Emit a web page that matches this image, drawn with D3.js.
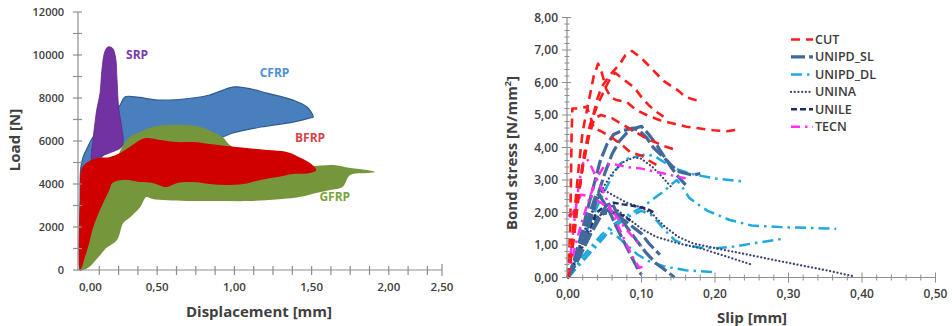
<!DOCTYPE html>
<html>
<head>
<meta charset="utf-8">
<script src="https://cdn.jsdelivr.net/npm/d3@7"></script>
<style>
  html, body { margin: 0; padding: 0; background: #fff; }
  svg { display: block; font-family: "Open Sans", "DejaVu Sans", sans-serif; }
</style>
</head>
<body>
<svg id="chart" width="952" height="326"></svg>
<script>
// ---------- Left panel: load–displacement envelopes [displacement mm, load N] ----------
const cfrpEnvelope = [
  [0,0],[0,3260],[0.005,4740],[0.02,5250],[0.05,5720],[0.08,6140],[0.13,6510],[0.19,7070],
  [0.26,7670],[0.29,8050],[0.36,8050],[0.52,7900],[0.73,8000],[0.84,8140],[0.99,8510],
  [1.08,8460],[1.21,8230],[1.38,7900],[1.47,7580],[1.51,7110],
  [1.49,7070],[1.38,6880],[1.17,6650],[0.99,6370],[0.87,6050],[0.65,5900],[0.45,5810],
  [0.29,5810],[0.19,5580],[0.10,4880],[0.03,3720],[0.005,0]
];
const srpEnvelope = [
  [0.076,5120],[0.084,6050],[0.097,6840],[0.108,7440],[0.13,8230],[0.14,9160],[0.16,10140],
  [0.18,10370],[0.21,10320],[0.23,9900],[0.24,8840],[0.25,7580],[0.27,6650],[0.28,6050],
  [0.27,5720],[0.19,5440],[0.10,5200]
];
const gfrpEnvelope = [
  [0,0],[0.03,1160],[0.08,2560],[0.14,3720],[0.22,4880],[0.28,5810],[0.32,6180],[0.39,6420],
  [0.47,6650],[0.56,6740],[0.69,6740],[0.78,6650],[0.86,6420],[0.93,6140],[0.97,5810],
  [1.17,5120],[1.42,4880],[1.51,4840],[1.64,4880],[1.75,4740],[1.86,4650],[1.91,4560],
  [1.86,4510],[1.75,4420],[1.70,3860],[1.62,3720],[1.53,3580],[1.42,3390],[1.31,3300],
  [1.10,3210],[0.89,3210],[0.69,3210],[0.47,3300],[0.43,3390],[0.39,2930],[0.32,2420],
  [0.28,2190],[0.24,1400],[0.17,1020],[0.12,600],[0.06,140],[0.02,0]
];
const bfrpEnvelope = [
  [0,0],[0,3260],[0.01,4700],[0.04,4980],[0.11,5210],[0.19,5250],[0.26,5440],[0.34,5810],
  [0.39,6050],[0.43,6140],[0.52,6050],[0.63,5950],[0.73,5950],[0.84,5860],[0.95,5770],
  [1.08,5670],[1.21,5580],[1.34,5490],[1.42,5250],[1.49,4980],[1.53,4650],
  [1.49,4510],[1.38,4460],[1.28,4320],[1.17,4190],[1.06,4000],[0.95,3950],[0.84,4000],
  [0.73,4090],[0.63,4050],[0.56,3860],[0.47,4050],[0.39,4090],[0.28,4190],[0.21,4050],
  [0.19,3720],[0.15,3120],[0.11,2460],[0.08,1860],[0.06,1260],[0.03,560],[0.01,90]
];
const envelopeLabels = ["SRP", "CFRP", "BFRP", "GFRP"];
const envelopeLabelAt = [[0.37,10000],[1.26,9180],[1.49,6150],[1.65,3400]];
const loadTicks = [0,2000,4000,6000,8000,10000,12000];
const displacementTicks = [0,0.5,1,1.5,2,2.5];

// ---------- Right panel: bond stress–slip curves [slip mm, stress N/mm²] ----------
const cutCurves = [
  [[0,0],[0.005,0.8],[0.012,2.2],[0.02,3.4],[0.03,4.6],[0.04,5.5],[0.046,5.87],[0.057,6.23],
   [0.071,6.58],[0.078,6.84],[0.087,6.97],[0.1,6.75],[0.115,6.4],[0.13,6.05],[0.15,5.75],
   [0.16,5.55],[0.175,5.45]],
  [[0,0],[0.005,1.0],[0.01,2.3],[0.015,3.5],[0.02,4.5],[0.028,5.4],[0.035,6.2],[0.041,6.58],
   [0.046,6.3],[0.052,5.8],[0.058,5.55],[0.066,5.46],[0.08,5.4],[0.093,5.15],[0.107,5.0],
   [0.125,4.84],[0.143,4.74],[0.161,4.64],[0.198,4.53],[0.216,4.5],[0.23,4.55]],
  [[0,0],[0.008,1.2],[0.015,2.6],[0.022,3.8],[0.03,4.7],[0.04,5.3],[0.05,5.8],[0.058,6.15],
   [0.064,6.3],[0.075,6.1],[0.09,5.85],[0.1,5.55],[0.11,5.3],[0.12,5.1],[0.13,4.95]],
  [[0,0],[0.003,1.5],[0.004,3.0],[0.005,4.5],[0.006,5.2],[0.015,5.2],[0.025,5.25],[0.03,5.0],
   [0.035,4.6],[0.045,4.5],[0.06,4.3],[0.075,4.05],[0.085,3.85],[0.1,3.75],[0.11,3.6],[0.125,3.4]],
  [[0,0],[0.006,1.0],[0.012,2.2],[0.02,3.4],[0.028,4.3],[0.036,4.9],[0.045,5.0],[0.06,4.9],
   [0.075,4.7],[0.09,4.5],[0.105,4.3],[0.12,4.15],[0.13,4.05],[0.143,3.95]]
];
const unipdSlCurves = [
  [[0,0],[0.008,0.5],[0.016,1.15],[0.03,2.4],[0.044,3.6],[0.053,4.1],[0.062,4.4],[0.072,4.5],
   [0.08,4.55],[0.089,4.6],[0.098,4.5],[0.107,4.3],[0.116,4.0],[0.13,3.7],[0.143,3.4],
   [0.152,3.25],[0.17,3.15],[0.18,3.2]],
  [[0,0],[0.01,0.4],[0.02,1.0],[0.03,1.7],[0.04,2.5],[0.05,3.2],[0.06,3.8],[0.07,4.2],
   [0.08,4.45],[0.092,4.6],[0.1,4.65],[0.11,4.4],[0.12,4.1],[0.13,3.75],[0.14,3.4],[0.15,3.1],[0.16,2.85]],
  [[0,0],[0.01,0.6],[0.02,1.3],[0.03,2.0],[0.039,2.6],[0.045,2.45],[0.055,2.1],[0.065,1.6],
   [0.075,1.15],[0.085,0.7],[0.093,0.35],[0.1,0.08]],
  [[0,0],[0.012,0.5],[0.025,1.1],[0.04,1.8],[0.052,2.2],[0.06,2.3],[0.066,2.0],[0.08,1.55],
   [0.093,1.15],[0.107,0.74],[0.12,0.43],[0.134,0.2],[0.145,0.0]],
  [[0,0],[0.015,0.6],[0.03,1.3],[0.045,1.9],[0.055,2.1],[0.065,1.95],[0.08,1.7],[0.1,1.35],
   [0.11,1.05],[0.125,0.7]]
];
const unipdDlCurves = [
  [[0,0],[0.01,0.5],[0.02,1.1],[0.03,1.7],[0.042,2.3],[0.053,2.8],[0.062,3.2],[0.071,3.5],
   [0.08,3.65],[0.089,3.7],[0.098,3.75],[0.107,3.8],[0.12,3.7],[0.134,3.5],[0.152,3.3],
   [0.175,3.15],[0.2,3.05],[0.24,2.95]],
  [[0,0],[0.01,0.3],[0.02,0.65],[0.03,0.9],[0.045,1.3],[0.06,1.6],[0.08,1.9],[0.1,2.15],
   [0.115,2.4],[0.13,2.65],[0.14,2.85],[0.148,3.0],[0.155,2.8],[0.165,2.45],[0.18,2.2],
   [0.19,2.05],[0.22,1.77],[0.25,1.6],[0.29,1.55],[0.365,1.5]],
  [[0,0],[0.015,0.4],[0.03,0.8],[0.045,1.2],[0.06,1.5],[0.08,1.85],[0.1,2.05],[0.115,1.9],
   [0.13,1.5],[0.145,1.15],[0.16,1.0],[0.18,0.92],[0.2,0.9],[0.225,0.95],[0.26,1.08],[0.295,1.2]],
  [[0,0],[0.02,0.5],[0.04,1.0],[0.055,1.4],[0.065,1.3],[0.08,1.0],[0.095,0.7],[0.11,0.5],
   [0.13,0.35],[0.16,0.22],[0.198,0.17]]
];
const uninaCurves = [
  [[0,0],[0.01,0.55],[0.02,1.2],[0.03,1.8],[0.04,2.4],[0.05,2.85],[0.06,3.2],[0.075,3.55],
   [0.09,3.7],[0.1,3.65],[0.115,3.4],[0.13,3.05],[0.14,2.8]],
  [[0,0],[0.01,0.6],[0.02,1.3],[0.03,1.9],[0.04,2.4],[0.048,2.7],[0.06,2.55],[0.08,2.3],
   [0.1,2.15],[0.115,1.95],[0.13,1.6],[0.15,1.25],[0.17,1.05],[0.19,0.95],[0.25,0.68],
   [0.3,0.45],[0.35,0.23],[0.388,0.04]],
  [[0,0],[0.015,0.7],[0.03,1.4],[0.045,1.95],[0.06,2.2],[0.08,1.85],[0.1,1.5],[0.12,1.25],
   [0.15,1.05],[0.18,0.9],[0.215,0.65],[0.252,0.38]]
];
const unileCurves = [
  [[0,0],[0.01,0.5],[0.025,1.35],[0.039,2.0],[0.05,2.2],[0.062,2.3],[0.075,2.25],[0.09,2.2],
   [0.107,2.12],[0.12,1.97]],
  [[0,0],[0.012,0.6],[0.025,1.3],[0.035,1.75],[0.045,1.95],[0.06,2.0],[0.075,1.9],[0.085,1.75]]
];
const tecnCurves = [
  [[0,0],[0.005,1.0],[0.01,2.0],[0.015,2.9],[0.02,3.5],[0.026,3.65],[0.032,3.4],[0.04,3.0],
   [0.05,2.55],[0.06,2.0],[0.07,1.5],[0.08,1.0],[0.09,0.55],[0.097,0.3],[0.105,0.35]],
  [[0,0],[0.01,1.0],[0.02,1.8],[0.03,2.5],[0.04,3.1],[0.05,3.45],[0.06,3.5],[0.08,3.4],
   [0.1,3.35],[0.12,3.25],[0.14,3.15],[0.16,3.05]],
  [[0,1.9],[0.006,1.95],[0.012,2.3],[0.018,2.55],[0.03,2.5],[0.045,2.3],[0.06,2.05],
   [0.075,1.6],[0.09,1.2],[0.1,0.95]]
];
const seriesNames = ["CUT", "UNIPD_SL", "UNIPD_DL", "UNINA", "UNILE", "TECN"];
const stressTicks = [0,1,2,3,4,5,6,7,8];
const slipTicks = [0,0.1,0.2,0.3,0.4,0.5];

// ---------- Drawing ----------
const svg = d3.select("#chart");
const axisColor = "#8e8e8e";
const textColor = "#404040";
const comma = v => d3.format(".2f")(v).replace(".", ",");

// Left panel scales and axis extent
const xL = d3.scaleLinear().domain([0, 2.5]).range([80, 466]);
const yL = d3.scaleLinear().domain([0, 12000]).range([270, 12]);
const axisLeftX = 78;
const xAxisEndPx = 442;
const xLEnd = xL.invert(xAxisEndPx);

const left = svg.append("g");
const envelope = d3.line().x(d => xL(d[0])).y(d => yL(d[1]))
  .curve(d3.curveCatmullRomClosed.alpha(0.5));

const envelopes = [
  { pts: cfrpEnvelope, fill: "#4a7fbd", stroke: "#2d5b92", sw: 1.2 },
  { pts: gfrpEnvelope, fill: "#75963b", stroke: "none", sw: 0 },
  { pts: srpEnvelope,  fill: "#7232a2", stroke: "#5f2a88", sw: 0.8 },
  { pts: bfrpEnvelope, fill: "#d10000", stroke: "none", sw: 0 }
];
left.selectAll("path.env").data(envelopes).join("path")
  .attr("class", "env")
  .attr("d", d => envelope(d.pts))
  .attr("fill", d => d.fill)
  .attr("stroke", d => d.stroke)
  .attr("stroke-width", d => d.sw)
  .attr("stroke-linejoin", "round");

// left y axis
left.append("line").attr("x1", axisLeftX).attr("x2", axisLeftX)
  .attr("y1", yL(0)).attr("y2", yL(12000)).attr("stroke", axisColor).attr("stroke-width", 1.2);
left.selectAll("line.ytk").data(d3.range(0, 12001, 1000)).join("line")
  .attr("class", "ytk")
  .attr("x1", axisLeftX - 5).attr("x2", axisLeftX + 4)
  .attr("y1", d => yL(d)).attr("y2", d => yL(d))
  .attr("stroke", axisColor).attr("stroke-width", 1.2);
left.selectAll("text.ylab").data(loadTicks).join("text")
  .attr("class", "ylab")
  .attr("x", 64).attr("y", d => yL(d)).attr("dy", "0.35em")
  .attr("text-anchor", "end")
  .attr("font-size", 11).attr("font-weight", 600).attr("fill", textColor)
  .text(d => d);

// left x axis
left.append("line").attr("x1", axisLeftX).attr("x2", xAxisEndPx)
  .attr("y1", yL(0)).attr("y2", yL(0)).attr("stroke", axisColor).attr("stroke-width", 1.2);
left.selectAll("line.xtk").data(d3.range(0.125, xLEnd, 0.125)).join("line")
  .attr("class", "xtk")
  .attr("x1", d => xL(d)).attr("x2", d => xL(d))
  .attr("y1", yL(0) - 4).attr("y2", yL(0) + 5)
  .attr("stroke", axisColor).attr("stroke-width", 1.2);
left.append("line").attr("x1", xAxisEndPx).attr("x2", xAxisEndPx)
  .attr("y1", yL(0) - 6).attr("y2", yL(0) + 6).attr("stroke", axisColor).attr("stroke-width", 1.2);
left.selectAll("text.xlab").data(displacementTicks).join("text")
  .attr("class", "xlab")
  .attr("x", d => d === 0 ? xL(0) - 1 : (d >= xLEnd ? xAxisEndPx : xL(d)))
  .attr("y", 291)
  .attr("text-anchor", d => d === 0 ? "start" : "middle")
  .attr("font-size", 11.5).attr("font-weight", 600).attr("fill", textColor)
  .text(d => comma(d));

// left axis titles
left.append("text").attr("transform", "translate(20,140) rotate(-90)")
  .attr("text-anchor", "middle").attr("font-size", 15).attr("font-weight", 700)
  .attr("fill", textColor).text("Load [N]");
left.append("text").attr("x", 259).attr("y", 317)
  .attr("text-anchor", "middle").attr("font-size", 15).attr("font-weight", 700)
  .attr("fill", textColor).text("Displacement [mm]");

// envelope labels
const labelColors = ["#7a3aaa", "#4f8fd8", "#d8434b", "#78a43c"];
left.selectAll("text.envlab").data(envelopeLabels).join("text")
  .attr("class", "envlab")
  .attr("x", (d, i) => xL(envelopeLabelAt[i][0]))
  .attr("y", (d, i) => yL(envelopeLabelAt[i][1]))
  .attr("dy", "0.35em").attr("text-anchor", "middle")
  .attr("font-size", 12).attr("font-weight", 700)
  .attr("fill", (d, i) => labelColors[i])
  .text(d => d);

// Right panel scales
const xR = d3.scaleLinear().domain([0, 0.5]).range([568, 935.5]);
const yR = d3.scaleLinear().domain([0, 8]).range([277.5, 17.5]);
const right = svg.append("g");
const curve = d3.line().x(d => xR(d[0])).y(d => yR(d[1]));

const styles = {
  CUT:      { color: "#ff1c1c", width: 2.6, dash: "9,6",        cap: "butt" },
  UNIPD_SL: { color: "#41699b", width: 3.2, dash: "14,4",       cap: "butt" },
  UNIPD_DL: { color: "#1eaae0", width: 2.5, dash: "11,5,2.5,5", cap: "butt" },
  UNINA:    { color: "#3a4577", width: 2.2, dash: "0.1,3.6",    cap: "round" },
  UNILE:    { color: "#1f2c68", width: 2.5, dash: "6,3",        cap: "butt" },
  TECN:     { color: "#ff2ef5", width: 2.5, dash: "9,5,2.5,5",  cap: "butt" }
};
const drawOrder = [
  ["UNIPD_DL", unipdDlCurves],
  ["UNINA", uninaCurves],
  ["UNILE", unileCurves],
  ["UNIPD_SL", unipdSlCurves],
  ["TECN", tecnCurves],
  ["CUT", cutCurves]
];
drawOrder.forEach(([name, curves]) => {
  const s = styles[name];
  right.append("g").selectAll("path").data(curves).join("path")
    .attr("d", curve)
    .attr("fill", "none")
    .attr("stroke", s.color)
    .attr("stroke-width", s.width)
    .attr("stroke-dasharray", s.dash)
    .attr("stroke-linecap", s.cap)
    .attr("stroke-linejoin", "round");
});

// right y axis
const axisRightX = 567;
right.append("line").attr("x1", axisRightX).attr("x2", axisRightX)
  .attr("y1", yR(0)).attr("y2", yR(8)).attr("stroke", axisColor).attr("stroke-width", 1.2);
right.selectAll("line.ymin").data(d3.range(0, 8.001, 0.2)).join("line")
  .attr("class", "ymin")
  .attr("x1", d => axisRightX - (Math.abs(d - Math.round(d)) < 1e-6 ? 5 : 2.5))
  .attr("x2", d => axisRightX + (Math.abs(d - Math.round(d)) < 1e-6 ? 4 : 2.5))
  .attr("y1", d => yR(d)).attr("y2", d => yR(d))
  .attr("stroke", axisColor).attr("stroke-width", 1);
right.selectAll("text.ylab").data(stressTicks).join("text")
  .attr("class", "ylab")
  .attr("x", 558).attr("y", d => yR(d)).attr("dy", "0.35em")
  .attr("text-anchor", "end")
  .attr("font-size", 12).attr("font-weight", 600).attr("fill", textColor)
  .text(d => comma(d));

// right x axis
right.append("line").attr("x1", axisRightX).attr("x2", xR(0.5))
  .attr("y1", yR(0)).attr("y2", yR(0)).attr("stroke", axisColor).attr("stroke-width", 1.2);
right.selectAll("line.xmin").data(d3.range(0.02, 0.5001, 0.02)).join("line")
  .attr("class", "xmin")
  .attr("x1", d => xR(d)).attr("x2", d => xR(d))
  .attr("y1", d => yR(0) - (Math.abs(d * 10 - Math.round(d * 10)) < 1e-6 ? 5 : 3))
  .attr("y2", d => yR(0) + (Math.abs(d * 10 - Math.round(d * 10)) < 1e-6 ? 5 : 3))
  .attr("stroke", axisColor).attr("stroke-width", 1);
right.selectAll("text.xlab").data(slipTicks).join("text")
  .attr("class", "xlab")
  .attr("x", d => xR(d)).attr("y", 297.5)
  .attr("text-anchor", "middle")
  .attr("font-size", 12).attr("font-weight", 600).attr("fill", textColor)
  .text(d => comma(d));

// right axis titles
const yTitle = right.append("text").attr("transform", "translate(517,153) rotate(-90)")
  .attr("text-anchor", "middle").attr("font-size", 15).attr("font-weight", 700)
  .attr("fill", textColor);
yTitle.append("tspan").text("Bond stress [N/mm");
yTitle.append("tspan").attr("font-size", 9).attr("dy", -6).text("2");
yTitle.append("tspan").attr("dy", 6).text("]");
right.append("text").attr("x", 752).attr("y", 323)
  .attr("text-anchor", "middle").attr("font-size", 15).attr("font-weight", 700)
  .attr("fill", textColor).text("Slip [mm]");

// legend
const legend = right.append("g");
const rowY = d3.scaleLinear().domain([0, 5]).range([39.5, 126.8]);
seriesNames.forEach((name, i) => {
  const s = styles[name];
  legend.append("line")
    .attr("x1", 791).attr("x2", 813)
    .attr("y1", rowY(i)).attr("y2", rowY(i))
    .attr("stroke", s.color).attr("stroke-width", s.width)
    .attr("stroke-dasharray", s.dash).attr("stroke-linecap", s.cap);
  legend.append("text")
    .attr("x", 815).attr("y", rowY(i)).attr("dy", "0.36em")
    .attr("font-size", 12.5).attr("font-weight", 600).attr("fill", "#3a3a3a")
    .text(name);
});
</script>
</body>
</html>
